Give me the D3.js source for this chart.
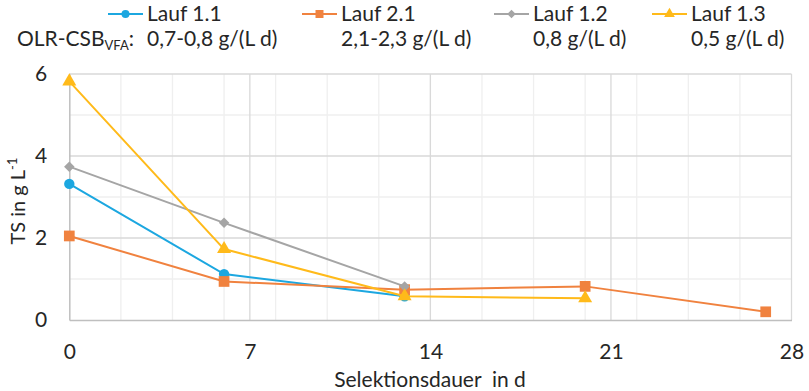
<!DOCTYPE html>
<html>
<head>
<meta charset="utf-8">
<script src="https://cdn.jsdelivr.net/npm/d3@7"></script>
<style>
  html, body { margin: 0; padding: 0; background: #fff; }
  svg text { font-family: Lato, "Open Sans", sans-serif; fill: #262626; }
</style>
</head>
<body>
<svg id="chart" width="809" height="391"></svg>
<script>
// Selection time (days) and total solids (g/L) per run
const lauf11Days = [0, 6, 13];
const lauf11TS   = [3.32, 1.12, 0.58];
const lauf21Days = [0, 6, 13, 20, 27];
const lauf21TS   = [2.05, 0.94, 0.74, 0.82, 0.2];
const lauf12Days = [0, 6, 13];
const lauf12TS   = [3.74, 2.37, 0.82];
const lauf13Days = [0, 6, 13, 20];
const lauf13TS   = [5.82, 1.73, 0.58, 0.53];

const seriesNames  = ["Lauf 1.1", "Lauf 2.1", "Lauf 1.2", "Lauf 1.3"];
const olrLabels    = ["0,7-0,8 g/(L d)", "2,1-2,3 g/(L d)", "0,8 g/(L d)", "0,5 g/(L d)"];
const xTicks       = [0, 7, 14, 21, 28];
const yTicks       = [0, 2, 4, 6];

// diamond drawn as a square turned by 45 degrees
const series = [
  { name: seriesNames[0], days: lauf11Days, ts: lauf11TS, color: "#1CA7E0", symbol: d3.symbolCircle,   rot: 0,  size: 85,  lsize: 50 },
  { name: seriesNames[1], days: lauf21Days, ts: lauf21TS, color: "#F0823F", symbol: d3.symbolSquare,   rot: 0,  size: 115, lsize: 64 },
  { name: seriesNames[2], days: lauf12Days, ts: lauf12TS, color: "#A5A5A5", symbol: d3.symbolSquare,   rot: 45, size: 55,  lsize: 36 },
  { name: seriesNames[3], days: lauf13Days, ts: lauf13TS, color: "#FFBA1A", symbol: d3.symbolTriangle, rot: 0,  size: 85,  lsize: 50 }
];

const svg = d3.select("#chart");
const x = d3.scaleLinear().domain([0, 28]).range([69.3, 791.5]);
const y = d3.scaleLinear().domain([0, 6]).range([320, 74]);

// minor grid (every 2 d / 1 g/L) then major grid (every 7 d / 2 g/L)
const grid = svg.append("g");
grid.selectAll(".vminor").data(d3.range(2, 28, 2)).join("line")
  .attr("x1", d => x(d)).attr("x2", d => x(d)).attr("y1", y(0)).attr("y2", y(6))
  .attr("stroke", "#EFEFEF").attr("stroke-width", 1.3);
grid.selectAll(".hminor").data([1, 3, 5]).join("line")
  .attr("x1", x(0)).attr("x2", x(28)).attr("y1", d => y(d)).attr("y2", d => y(d))
  .attr("stroke", "#EFEFEF").attr("stroke-width", 1.3);
grid.selectAll(".vmajor").data(xTicks.slice(1)).join("line")
  .attr("x1", d => x(d)).attr("x2", d => x(d)).attr("y1", y(0)).attr("y2", y(6))
  .attr("stroke", "#D9D9D9").attr("stroke-width", 1.3);
grid.selectAll(".hmajor").data(yTicks.slice(1)).join("line")
  .attr("x1", x(0)).attr("x2", x(28)).attr("y1", d => y(d)).attr("y2", d => y(d))
  .attr("stroke", "#D9D9D9").attr("stroke-width", 1.3);

// axes
const xAxis = svg.append("g").attr("transform", `translate(0,${y(0)})`)
  .call(d3.axisBottom(x).tickValues(xTicks).tickFormat(d3.format("d")).tickSize(0).tickPadding(24));
xAxis.select(".domain").attr("stroke", "#BFBFBF").attr("stroke-width", 1.5);
xAxis.selectAll("text").attr("font-size", 21).attr("fill", "#262626")
  .style("font-family", "Lato, sans-serif");

const yAxis = svg.append("g").attr("transform", `translate(${x(0)},0)`)
  .call(d3.axisLeft(y).tickValues(yTicks).tickFormat(d3.format("d")).tickSize(0).tickPadding(22));
yAxis.select(".domain").attr("stroke", "#BFBFBF").attr("stroke-width", 1.5);
yAxis.selectAll("text").attr("font-size", 21).attr("fill", "#262626")
  .style("font-family", "Lato, sans-serif");

// axis titles
svg.append("text").attr("x", 430).attr("y", 387).attr("text-anchor", "middle")
  .attr("font-size", 21).style("white-space", "pre").text("Selektionsdauer  in d");

const yt = svg.append("text").attr("transform", "translate(25,201) rotate(-90)")
  .attr("text-anchor", "middle").attr("font-size", 20);
yt.append("tspan").text("TS in g L");
yt.append("tspan").attr("font-size", 13).attr("dy", -8).text("-1");

// lines and markers
const line = d3.line().x(d => x(d[0])).y(d => y(d[1]));
series.forEach(s => {
  const pts = s.days.map((d, i) => [d, s.ts[i]]);
  svg.append("path").datum(pts).attr("d", line)
    .attr("fill", "none").attr("stroke", s.color).attr("stroke-width", 2);
  svg.append("g").selectAll("path").data(pts).join("path")
    .attr("transform", d => `translate(${x(d[0])},${y(d[1])}) rotate(${s.rot})`)
    .attr("d", d3.symbol(s.symbol, s.size))
    .attr("fill", s.color);
});

// legend: series row and OLR row
const legendX = [108, 302, 494, 652];
series.forEach((s, i) => {
  const g = svg.append("g").attr("transform", `translate(${legendX[i]},14)`);
  g.append("line").attr("x1", 0).attr("x2", 35).attr("stroke", s.color).attr("stroke-width", 2);
  g.append("path").attr("transform", `translate(17.5,0) rotate(${s.rot})`)
    .attr("d", d3.symbol(s.symbol, s.lsize)).attr("fill", s.color);
  g.append("text").attr("x", 39).attr("y", 7).attr("font-size", 21).text(s.name);
  svg.append("text").attr("x", legendX[i] + 39).attr("y", 46).attr("font-size", 21).text(olrLabels[i]);
});

const olr = svg.append("text").attr("x", 17).attr("y", 46).attr("font-size", 21);
olr.append("tspan").text("OLR-CSB");
olr.append("tspan").attr("font-size", 13).attr("dy", 4).text("VFA");
olr.append("tspan").attr("dy", -4).text(":");
</script>
</body>
</html>
